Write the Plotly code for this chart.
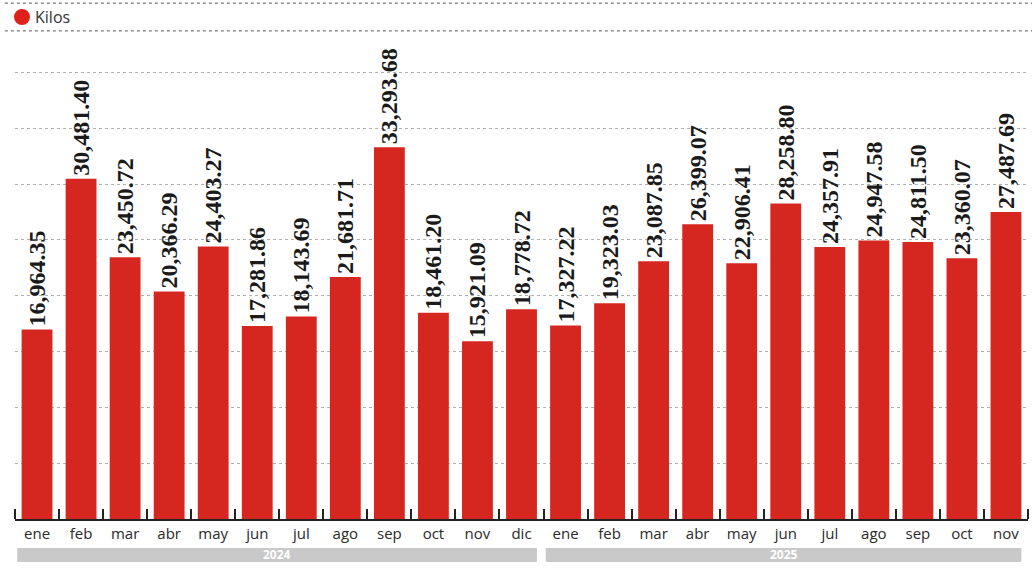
import plotly.graph_objects as go

months = ["ene", "feb", "mar", "abr", "may", "jun", "jul", "ago", "sep", "oct", "nov", "dic",
          "ene", "feb", "mar", "abr", "may", "jun", "jul", "ago", "sep", "oct", "nov"]
years = ["2024", "2025"]
months_per_year = [12, 11]
kilos = [16964.35, 30481.40, 23450.72, 20366.29, 24403.27, 17281.86, 18143.69, 21681.71,
         33293.68, 18461.20, 15921.09, 18778.72,
         17327.22, 19323.03, 23087.85, 26399.07, 22906.41, 28258.80, 24357.91, 24947.58,
         24811.50, 23360.07, 27487.69]
labels = [f"{v:,.2f}" for v in kilos]
series_name = "Kilos"

RED = "#d52620"
x = list(range(len(kilos)))

fig = go.Figure()
fig.add_trace(go.Bar(
    x=x, y=kilos, name=series_name,
    marker=dict(color=RED, line=dict(width=0)),
    width=0.7,
    text=labels, textposition="outside", textangle=-90,
    textfont=dict(family="Liberation Serif", size=24, color="#1a1a1a", weight="bold"),
    cliponaxis=False, constraintext="none",
    showlegend=False,
))

fig.update_layout(
    width=1032, height=568,
    margin=dict(l=15, r=4, t=40, b=49, autoexpand=False),
    paper_bgcolor="white", plot_bgcolor="white",
    bargap=0.3,
    xaxis=dict(
        range=[-0.5, len(kilos) - 0.5],
        tickmode="array", tickvals=x, ticktext=months, ticks="",
        tickfont=dict(family="Open Sans", size=15, color="#2a2a2a"),
        showline=True, linecolor="#222", linewidth=2,
        showgrid=False, zeroline=False,
        minor=dict(tickmode="linear", tick0=-0.5, dtick=1, ticks="inside",
                   ticklen=10, tickwidth=2, tickcolor="#222", showgrid=False),
    ),
    yaxis=dict(
        range=[0, 42900], dtick=5000, showticklabels=False,
        showgrid=True, gridcolor="#b0b0b0", griddash="dot", gridwidth=1,
        zeroline=False, showline=False, ticks="",
    ),
)

# year bands below month labels
start = 0
for yr, n in zip(years, months_per_year):
    first, last = start, start + n - 1
    x0, x1 = first - 0.45, last + 0.35
    fig.add_shape(type="rect", xref="x", yref="paper", x0=x0, x1=x1,
                  y0=-0.0898, y1=-0.0605, fillcolor="#c9c9c9", line=dict(width=0),
                  layer="above")
    fig.add_annotation(xref="x", yref="paper", x=(x0 + x1) / 2, y=-0.075,
                       text=yr, showarrow=False, yanchor="middle",
                       font=dict(family="Open Sans", size=12, color="white", weight="bold"))
    start += n

# header lines and legend
for yy in [1.077, 1.019]:
    fig.add_shape(type="line", xref="paper", yref="paper", x0=-0.01, x1=1.01,
                  y0=yy, y1=yy, line=dict(color="#555", width=1, dash="dot"))
fig.add_shape(type="circle", xref="paper", yref="paper", xsizemode="pixel", ysizemode="pixel",
              xanchor=0.0069, yanchor=1.048, x0=-8, x1=8, y0=-8, y1=8,
              fillcolor="#e0201b", line=dict(width=0))
fig.add_annotation(xref="paper", yref="paper", x=0.0178, y=1.048, text=series_name,
                   showarrow=False, xanchor="left", yanchor="middle",
                   font=dict(family="Open Sans", size=16, color="#333"))

fig.write_html("out.html", config={"displayModeBar": False},
               post_script="document.body.style.margin='0';document.body.style.overflow='hidden';")
